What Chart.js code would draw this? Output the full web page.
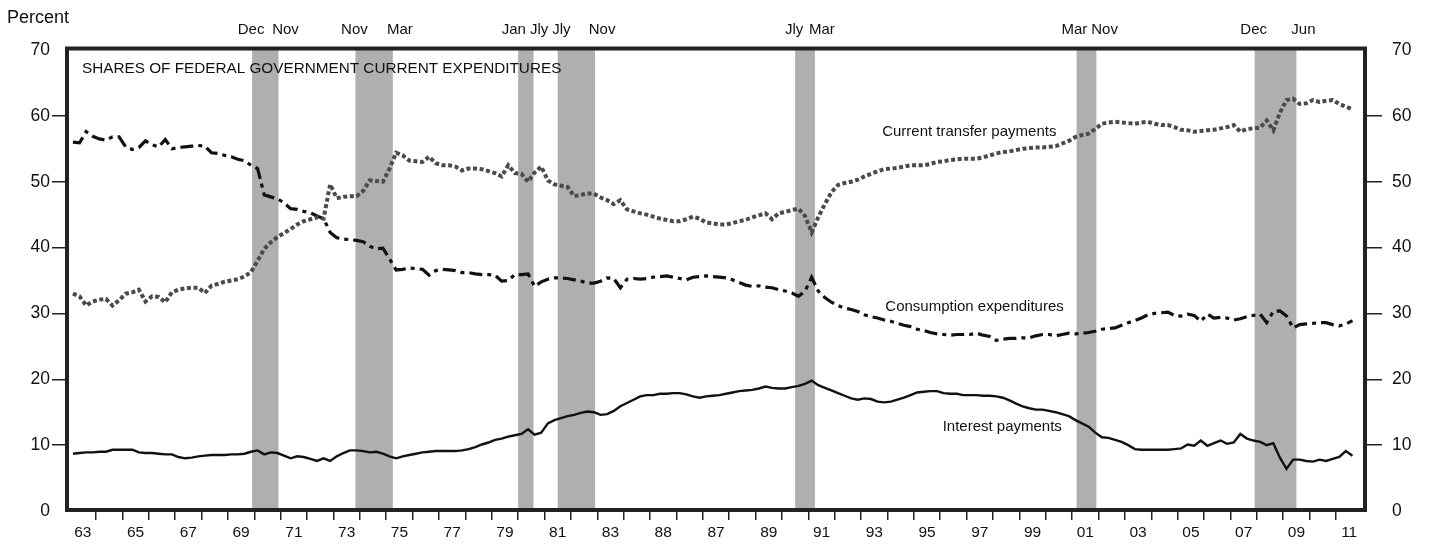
<!DOCTYPE html>
<html><head><meta charset="utf-8">
<script src="https://cdn.jsdelivr.net/npm/chart.js@4.4.1/dist/chart.umd.min.js"></script>
<style>html,body{margin:0;padding:0;background:#fff;}#wrap{width:1437px;height:544px;}</style>
</head><body><div id="wrap"><canvas id="c" width="1437" height="544"></canvas></div>
<script>
// ---- DATA (quarterly, 1963Q1 - 2011Q3), percent of federal current expenditures ----
const startYear = 1963;
const transferPayments = [
  33.0, 32.6, 31.2, 31.8,  32.1, 32.2, 31.2, 32.0,  33.0, 33.2, 33.6, 31.8,  32.6, 32.5, 31.7, 33.2,
  33.6, 33.8, 33.9, 33.9,  33.1, 34.2, 34.5, 34.8,  35.0, 35.2, 35.6, 36.3,  38.0, 39.8, 40.8, 41.6,
  42.2, 42.8, 43.5, 44.0,  44.3, 44.6, 44.4, 49.6,  47.5, 47.7, 47.8, 47.8,  48.6, 50.2, 50.1, 50.0,
  52.0, 54.4, 54.0, 53.2,  53.1, 53.0, 53.8, 52.8,  52.5, 52.5, 52.3, 51.7,  52.0, 52.0, 51.9, 51.6,
  51.3, 50.8, 52.5, 51.3,  51.2, 50.0, 51.4, 52.3,  50.2, 49.6, 49.4, 49.2,  47.8, 48.0, 48.2, 48.2,
  47.6, 47.2, 46.6, 47.2,  45.8, 45.5, 45.2, 45.0,  44.7, 44.4, 44.2, 44.0,  44.0, 44.3, 44.7, 44.4,
  43.8, 43.7, 43.5, 43.5,  43.7, 44.0, 44.2, 44.6,  44.9, 45.2, 44.3, 45.2,  45.4, 45.7, 45.9, 44.8,
  42.3, 44.6, 46.6, 48.4,  49.5, 49.8, 50.0, 50.3,  50.8, 51.2, 51.6, 51.9,  52.0, 52.1, 52.3, 52.5,
  52.5, 52.5, 52.7, 53.0,  53.1, 53.3, 53.4, 53.5,  53.5, 53.5, 53.7, 54.0,  54.3, 54.5, 54.6, 54.8,
  55.0, 55.1, 55.2, 55.2,  55.3, 55.4, 55.8, 56.2,  56.8, 57.1, 57.3, 58.0,  58.8, 59.0, 59.1, 59.0,
  58.9, 58.8, 59.0, 59.1,  58.8, 58.6, 58.6, 58.3,  57.9, 57.8, 57.6, 57.7,  57.8, 57.9, 58.1, 58.3,
  58.6, 57.6, 58.0, 58.1,  58.2, 59.3, 57.8, 60.5,  62.4, 62.6, 61.8, 61.9,  62.4, 62.1, 62.3, 62.4,
  61.8, 61.4, 61.0
];
const consumptionExpenditures = [
  56.0, 55.9, 57.6, 56.9,  56.5, 56.3, 56.8, 56.8,  55.3, 54.9, 55.2, 56.2,  55.6, 55.3, 56.4, 55.0,
  55.2, 55.3, 55.4, 55.5,  55.4, 54.4, 54.3, 54.0,  53.8, 53.4, 53.2, 52.5,  52.0, 48.0, 47.7, 47.4,
  46.8, 45.9, 45.8, 45.5,  45.3, 44.8, 44.4, 42.3,  41.5, 41.3, 41.2, 41.1,  40.9, 40.2, 39.8, 39.9,
  38.3, 36.6, 36.7, 36.9,  36.8, 36.7, 35.8, 36.5,  36.7, 36.6, 36.5, 36.2,  36.2, 36.0, 35.9, 35.9,
  35.8, 34.9, 35.0, 35.9,  35.9, 36.0, 34.1, 34.8,  35.2, 35.4, 35.4, 35.3,  35.1, 34.9, 34.6, 34.6,
  34.9, 35.4, 35.3, 33.9,  35.2, 35.3, 35.2, 35.3,  35.5, 35.6, 35.7, 35.5,  35.3, 35.1, 35.5, 35.6,
  35.7, 35.6, 35.5, 35.4,  35.1, 34.7, 34.3, 34.1,  34.2, 34.0, 33.9, 33.6,  33.4, 33.1, 32.6, 33.4,
  35.5, 33.4, 32.4, 31.7,  31.2, 30.8, 30.6, 30.3,  29.8, 29.5, 29.3, 29.0,  28.8, 28.5, 28.2, 28.0,
  27.6, 27.4, 27.1, 26.9,  26.8, 26.7, 26.8, 26.8,  26.8, 27.0, 26.7, 26.5,  25.9, 26.1, 26.2, 26.2,
  26.3, 26.3, 26.6, 26.8,  26.8, 26.6, 26.8, 27.0,  26.9, 27.0, 27.1, 27.3,  27.6, 27.7, 27.8, 28.2,
  28.6, 28.9, 29.3, 29.8,  30.0, 30.1, 30.2, 29.7,  29.6, 29.9, 29.7, 28.8,  29.9, 29.3, 29.4, 29.3,
  29.0, 29.2, 29.5, 29.7,  29.9, 28.6, 30.3, 30.4,  29.6, 27.8, 28.3, 28.4,  28.5, 28.6, 28.6, 28.3,
  28.1, 28.4, 28.9
];
const interestPayments = [
  8.7, 8.8, 8.9, 8.9,  9.0, 9.0, 9.3, 9.3,  9.3, 9.3, 8.9, 8.8,  8.8, 8.7, 8.6, 8.6,
  8.2, 8.0, 8.1, 8.3,  8.4, 8.5, 8.5, 8.5,  8.6, 8.6, 8.7, 9.0,  9.2, 8.6, 8.9, 8.8,
  8.4, 8.0, 8.3, 8.2,  7.9, 7.6, 8.0, 7.6,  8.3, 8.8, 9.2, 9.2,  9.1, 8.9, 9.0, 8.7,
  8.3, 8.0, 8.3, 8.5,  8.7, 8.9, 9.0, 9.1,  9.1, 9.1, 9.1, 9.2,  9.4, 9.7, 10.1, 10.4,
  10.8, 11.0, 11.3, 11.5,  11.7, 12.4, 11.6, 11.9,  13.3, 13.8, 14.1, 14.4,  14.6, 14.9, 15.1, 15.0,
  14.6, 14.7, 15.2, 15.9,  16.4, 16.9, 17.4, 17.6,  17.6, 17.8, 17.8, 17.9,  17.9, 17.7, 17.4, 17.2,
  17.4, 17.5, 17.6, 17.8,  18.0, 18.2, 18.3, 18.4,  18.6, 18.9, 18.7, 18.6,  18.6, 18.8, 19.0, 19.3,
  19.8, 19.1, 18.7, 18.3,  17.9, 17.5, 17.1, 16.9,  17.1, 17.0, 16.6, 16.5,  16.6, 16.9, 17.2, 17.6,
  18.0, 18.1, 18.2, 18.2,  17.9, 17.8, 17.8, 17.6,  17.6, 17.6, 17.5, 17.5,  17.4, 17.2, 16.8, 16.3,
  15.9, 15.6, 15.4, 15.4,  15.2, 15.0, 14.7, 14.4,  13.8, 13.3, 12.8, 11.9,  11.2, 11.1, 10.8, 10.5,
  10.0, 9.4, 9.3, 9.3,  9.3, 9.3, 9.3, 9.4,  9.5, 10.1, 9.9, 10.7,  9.9, 10.3, 10.7, 10.2,
  10.4, 11.7, 11.0, 10.7,  10.5, 10.0, 10.3, 8.1,  6.4, 7.8, 7.8, 7.6,  7.5, 7.8, 7.6, 7.9,
  8.2, 9.1, 8.4
];
const yearTickYears  = [1963,1965,1967,1969,1971,1973,1975,1977,1979,1981,1983,1985,1987,1989,1991,1993,1995,1997,1999,2001,2003,2005,2007,2009,2011];
const yearTickLabels = ['63','65','67','69','71','73','75','77','79','81','83','88','87','89','91','93','95','97','99','01','03','05','07','09','11'];
const valueTicks = [0,10,20,30,40,50,60,70];
const recessionStart = [1969.917, 1973.833, 1980.0, 1981.5, 1990.5, 2001.167, 2007.917];
const recessionEnd   = [1970.917, 1975.25, 1980.583, 1982.917, 1991.25, 2001.917, 2009.5];
const recessionStartLabels = ['Dec','Nov','Jan','Jly','Jly','Mar','Dec'];
const recessionEndLabels   = ['Nov','Mar','Jly','Nov','Mar','Nov','Jun'];
const seriesNames = ['Current transfer payments','Consumption expenditures','Interest payments'];
const seriesLabelAnchors = [[1997.1, 57.5],[1997.3, 31.0],[1998.35, 12.8]];
const chartTitle = 'SHARES OF FEDERAL GOVERNMENT CURRENT EXPENDITURES';
const unitLabel = 'Percent';

// ---- helpers ----
const FONT = '"Liberation Sans", Arial, Helvetica, sans-serif';
Chart.defaults.font.family = FONT;
Chart.defaults.color = '#111';
function toPoints(arr){ return arr.map((v,i)=>({x: startYear + i/4 + 0.125, y: v})); }
function xLabelFor(v){
  const i = yearTickYears.findIndex(y => Math.abs(y + 0.5 - v) < 1e-6);
  return i >= 0 ? yearTickLabels[i] : '';
}
function buildXTicks(){
  const t = [];
  for (let y = startYear + 1; y <= 2011; y++) t.push({value: y});
  yearTickYears.forEach(y => t.push({value: y + 0.5}));
  t.sort((a,b)=>a.value-b.value);
  return t;
}
function resolve(items, gap){
  items.sort((a,b)=>a.x-b.x);
  for (let k=0;k<50;k++){
    let moved=false;
    for (let i=1;i<items.length;i++){
      const a=items[i-1], b=items[i];
      const ov = (a.x + a.w/2 + gap) - (b.x - b.w/2);
      if (ov > 0.01){ a.x -= ov/2; b.x += ov/2; moved=true; }
    }
    if(!moved) break;
  }
}

const decorPlugin = {
  id:'decor',
  beforeDatasetsDraw(chart){
    const {ctx, chartArea:a, scales:{x}} = chart;
    ctx.save();
    ctx.fillStyle = '#afafaf';
    recessionStart.forEach((s,i)=>{
      const x1 = x.getPixelForValue(s), x2 = x.getPixelForValue(recessionEnd[i]);
      ctx.fillRect(x1, a.top, x2-x1, a.bottom-a.top);
    });
    // month labels above the frame
    ctx.font = '15px ' + FONT;
    ctx.fillStyle = '#111';
    ctx.textAlign = 'center'; ctx.textBaseline = 'middle';
    const items = [];
    recessionStart.forEach((s,i)=>{
      const t1 = recessionStartLabels[i], t2 = recessionEndLabels[i];
      items.push({t:t1, x:x.getPixelForValue(s)-1, w:ctx.measureText(t1).width});
      items.push({t:t2, x:x.getPixelForValue(recessionEnd[i])+7, w:ctx.measureText(t2).width});
    });
    resolve(items, 4);
    items.forEach(it=>ctx.fillText(it.t, it.x, 30));
    ctx.restore();
  },
  afterDatasetsDraw(chart){
    const {ctx, chartArea:a, scales:{x,y}} = chart;
    ctx.save();
    ctx.fillStyle = '#111';
    ctx.font = '15.3px ' + FONT;
    ctx.textAlign = 'left'; ctx.textBaseline = 'middle';
    ctx.fillText(chartTitle, a.left + 15, a.top + 19);
    ctx.font = '15px ' + FONT;
    ctx.textAlign = 'center';
    seriesNames.forEach((n,i)=>{
      ctx.fillText(n, x.getPixelForValue(seriesLabelAnchors[i][0]), y.getPixelForValue(seriesLabelAnchors[i][1]));
    });
    // frame
    ctx.strokeStyle = '#222';
    ctx.lineWidth = 4;
    ctx.strokeRect(a.left, a.top - 1.5, a.right - a.left, a.bottom - a.top + 0.5);
    // unit label
    ctx.font = '18px ' + FONT;
    ctx.textAlign = 'left';
    ctx.fillText(unitLabel, 7, 18);
    ctx.restore();
  }
};

const yGridColor = c => (c.tick && c.tick.value > 0 && c.tick.value < 70) ? '#222' : 'rgba(0,0,0,0)';

new Chart(document.getElementById('c'), {
  type: 'line',
  data: { datasets: [
    { label: seriesNames[0], data: toPoints(transferPayments), borderColor: '#4a4a4a', borderWidth: 4,
      borderDash: [4, 2.6], borderCapStyle: 'butt', pointRadius: 0, tension: 0 },
    { label: seriesNames[1], data: toPoints(consumptionExpenditures), borderColor: '#111', borderWidth: 3.2,
      borderDash: [13, 5, 4, 5], borderCapStyle: 'butt', pointRadius: 0, tension: 0 },
    { label: seriesNames[2], data: toPoints(interestPayments), borderColor: '#111', borderWidth: 2.4,
      pointRadius: 0, tension: 0 }
  ]},
  options: {
    responsive: false, animation: false, devicePixelRatio: 1,
    layout: { padding: { top: 50, left: 0, right: 0, bottom: 0 } },
    plugins: { legend: { display: false }, tooltip: { enabled: false } },
    scales: {
      x: {
        type: 'linear', min: 1962.9, max: 2012.1,
        afterBuildTicks: s => { s.ticks = buildXTicks(); },
        afterFit: s => { s.height = 33; },
        border: { display: false },
        grid: { drawOnChartArea: false, drawTicks: true, tickLength: 9, lineWidth: 1.5,
          color: c => (c.tick && Number.isInteger(c.tick.value)) ? '#222' : 'rgba(0,0,0,0)' },
        ticks: { autoSkip: false, maxRotation: 0, minRotation: 0, padding: 3, font: { size: 15.5 }, color: '#111',
          callback: v => xLabelFor(v) }
      },
      y: {
        position: 'left', min: 0, max: 70,
        afterBuildTicks: s => { s.ticks = valueTicks.map(v => ({value: v})); },
        afterFit: s => { s.width = 67; },
        border: { display: false },
        grid: { drawOnChartArea: false, drawTicks: true, tickLength: 15, lineWidth: 1.5, color: yGridColor },
        ticks: { padding: 2, font: { size: 17.5 }, color: '#111' }
      },
      y2: {
        position: 'right', min: 0, max: 70, display: true,
        afterBuildTicks: s => { s.ticks = valueTicks.map(v => ({value: v})); },
        afterFit: s => { s.width = 72; },
        border: { display: false },
        grid: { drawOnChartArea: false, drawTicks: true, tickLength: 17, lineWidth: 1.5, color: yGridColor },
        ticks: { padding: 10, font: { size: 17.5 }, color: '#111' }
      }
    }
  },
  plugins: [decorPlugin]
});
</script>
</body></html>
